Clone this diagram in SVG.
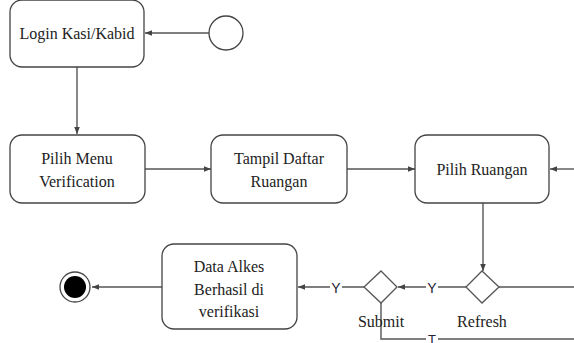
<svg xmlns="http://www.w3.org/2000/svg" width="574" height="343" viewBox="0 0 574 343">
<style>
.box{fill:#fff;stroke:#444;stroke-width:1.3}
.c{fill:none;stroke:#555;stroke-width:1.4}
.lb{fill:#fff}
</style>
<defs>
<marker id="a" viewBox="0 0 10 10" refX="10" refY="5" markerWidth="7" markerHeight="7" markerUnits="userSpaceOnUse" orient="auto">
<path d="M0,1 L10,5 L0,9 Z" fill="#444"/>
</marker>
</defs>
<g id="connectors">
<line class="c" x1="209" y1="33" x2="145" y2="33" marker-end="url(#a)"/>
<line class="c" x1="77" y1="67" x2="77" y2="134" marker-end="url(#a)"/>
<line class="c" x1="145" y1="169" x2="211" y2="169" marker-end="url(#a)"/>
<line class="c" x1="347" y1="169" x2="415" y2="169" marker-end="url(#a)"/>
<line class="c" x1="574" y1="169" x2="550" y2="169" marker-end="url(#a)"/>
<line class="c" x1="483" y1="203" x2="483" y2="271" marker-end="url(#a)"/>
<line class="c" x1="466" y1="287" x2="398" y2="287" marker-end="url(#a)"/>
<line class="c" x1="364" y1="287" x2="298" y2="287" marker-end="url(#a)"/>
<line class="c" x1="162" y1="287" x2="92" y2="287" marker-end="url(#a)"/>
<line class="c" x1="499" y1="287" x2="574" y2="287"/>
<polyline class="c" points="381,303 381,339 574,339"/>
<rect class="lb" x="426" y="279" width="12" height="16"/>
<text x="432" y="293" font-family="Liberation Sans" font-size="14" fill="#223" text-anchor="middle">Y</text>
<rect class="lb" x="330" y="279" width="12" height="16"/>
<text x="336" y="293" font-family="Liberation Sans" font-size="14" fill="#223" text-anchor="middle">Y</text>
<rect class="lb" x="426" y="334" width="12" height="9"/>
<text x="432" y="344" font-family="Liberation Sans" font-size="13" fill="#223" text-anchor="middle">T</text>
</g>
<g id="start"><circle cx="226" cy="33" r="17" fill="#fff" stroke="#444" stroke-width="1.3"/></g>
<g id="login"><rect class="box" x="10" y="0" width="134" height="67" rx="12"/><text x="77" y="39" font-family="Liberation Serif" font-size="16" fill="#222" text-anchor="middle">Login Kasi/Kabid</text></g>
<g id="pilihmenu"><rect class="box" x="10" y="135" width="135" height="68" rx="12"/><text x="77" y="164" font-family="Liberation Serif" font-size="16" fill="#222" text-anchor="middle">Pilih Menu</text><text x="77" y="187" font-family="Liberation Serif" font-size="16" fill="#222" text-anchor="middle">Verification</text></g>
<g id="tampil"><rect class="box" x="211" y="135" width="136" height="68" rx="12"/><text x="279" y="164" font-family="Liberation Serif" font-size="16" fill="#222" text-anchor="middle">Tampil Daftar</text><text x="279" y="187" font-family="Liberation Serif" font-size="16" fill="#222" text-anchor="middle">Ruangan</text></g>
<g id="pilihruangan"><rect class="box" x="415" y="135" width="134" height="68" rx="12"/><text x="482" y="175" font-family="Liberation Serif" font-size="16" fill="#222" text-anchor="middle">Pilih Ruangan</text></g>
<g id="refresh"><polygon points="482,271 499,287 482,303 466,287" fill="#fff" stroke="#555" stroke-width="1.3"/><text x="482" y="327" font-family="Liberation Serif" font-size="16" fill="#222" text-anchor="middle">Refresh</text></g>
<g id="submit"><polygon points="381,271 397,287 381,303 364,287" fill="#fff" stroke="#555" stroke-width="1.3"/><text x="381" y="327" font-family="Liberation Serif" font-size="16" fill="#222" text-anchor="middle">Submit</text></g>
<g id="dataalkes"><rect class="box" x="162" y="244" width="135" height="85" rx="12"/><text x="229" y="272" font-family="Liberation Serif" font-size="16" fill="#222" text-anchor="middle">Data Alkes</text><text x="229" y="295" font-family="Liberation Serif" font-size="16" fill="#222" text-anchor="middle">Berhasil di</text><text x="229" y="317" font-family="Liberation Serif" font-size="16" fill="#222" text-anchor="middle">verifikasi</text></g>
<g id="end"><circle cx="75" cy="287" r="15" fill="#fff" stroke="#444" stroke-width="1.3"/><circle cx="75" cy="287" r="11" fill="#000"/></g>
</svg>
